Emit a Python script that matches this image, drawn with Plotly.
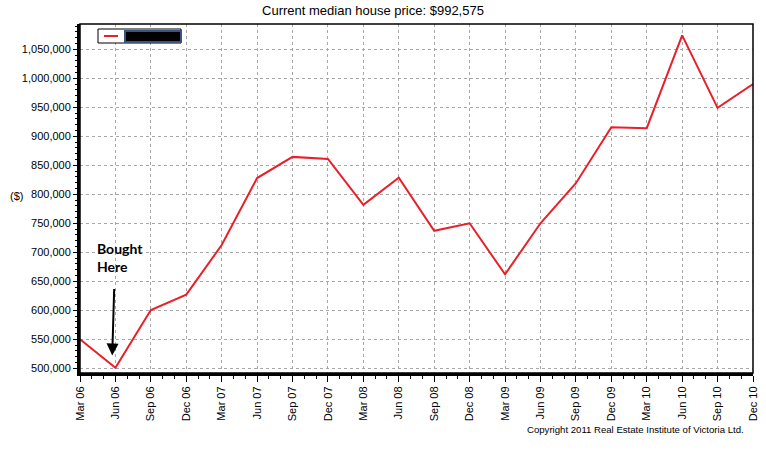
import plotly.graph_objects as go

quarters = ["Mar 06", "Jun 06", "Sep 06", "Dec 06", "Mar 07", "Jun 07", "Sep 07", "Dec 07",
            "Mar 08", "Jun 08", "Sep 08", "Dec 08", "Mar 09", "Jun 09", "Sep 09", "Dec 09",
            "Mar 10", "Jun 10", "Sep 10", "Dec 10"]
prices = [550000, 501000, 600500, 627000, 712500, 828000, 864500, 861000,
          782000, 828500, 737000, 750000, 662000, 750000, 819000, 915500,
          914000, 1074000, 949000, 990000]
y_ticks = list(range(500000, 1050001, 50000))
title_text = "Current median house price: $992,575"
copyright_text = "Copyright 2011 Real Estate Institute of Victoria Ltd."

x_idx = list(range(len(quarters)))
FONT = "Liberation Sans, Arial, sans-serif"

fig = go.Figure()
fig.add_trace(go.Scatter(x=x_idx, y=prices, mode="lines",
                         line=dict(color="#e8202a", width=2), showlegend=False,
                         hoverinfo="skip"))

fig.update_layout(
    width=766, height=459,
    margin=dict(l=80, r=13, t=24, b=86),
    paper_bgcolor="white", plot_bgcolor="white",
    font=dict(family=FONT, size=11, color="#000000"),
    title=dict(text=title_text, x=373 / 766, xanchor="center", y=0.988, yanchor="top",
               font=dict(family=FONT, size=13, color="#000000")),
    xaxis=dict(range=[0, len(quarters) - 1], tickmode="array", tickvals=x_idx,
               ticktext=quarters, tickangle=-90, ticks="outside", ticklen=6,
               tickcolor="black", tickwidth=1, automargin=False,
               showgrid=True, gridcolor="#a8a8a8", griddash="dot", gridwidth=1,
               showline=True, linecolor="black", linewidth=3, zeroline=False,
               minor=dict(dtick=1/3, ticks="outside", ticklen=3, tickcolor="black",
                          showgrid=False),
               tickfont=dict(size=11)),
    yaxis=dict(range=[491900, 1093600], tickmode="array", tickvals=y_ticks,
               tickformat=",d", ticks="outside", ticklen=4, tickcolor="black",
               automargin=False,
               showgrid=True, gridcolor="#a8a8a8", griddash="dot", gridwidth=1,
               showline=True, linecolor="black", linewidth=3, zeroline=False,
               minor=dict(dtick=10000, tick0=500000, ticks="outside", ticklen=2,
                          tickcolor="black", showgrid=False),
               tickfont=dict(size=11)),
)

# frame (top/right)
fig.add_shape(type="rect", xref="paper", yref="paper", x0=0, x1=1, y0=0, y1=1,
              line=dict(color="black", width=1.5), layer="above")

# legend box (redacted series name)
fig.add_shape(type="rect", xref="paper", yref="paper",
              x0=(98 - 80) / 673, x1=(181 - 80) / 673,
              y0=1 - (43 - 24) / 349, y1=1 - (29 - 24) / 349,
              line=dict(color="black", width=1), fillcolor="white")
fig.add_shape(type="line", xref="paper", yref="paper",
              x0=(104 - 80) / 673, x1=(118 - 80) / 673,
              y0=1 - (36 - 24) / 349, y1=1 - (36 - 24) / 349,
              line=dict(color="#e8202a", width=2))
fig.add_shape(type="rect", xref="paper", yref="paper",
              x0=(125 - 80) / 673, x1=(181 - 80) / 673,
              y0=1 - (42 - 24) / 349, y1=1 - (31 - 24) / 349,
              line=dict(color="#3b5580", width=2), fillcolor="#000000")

# y-axis unit label
fig.add_annotation(text="($)", xref="paper", yref="paper", x=-(80 - 16) / 673,
                   y=1 - (196 - 24) / 349, xanchor="center", yanchor="middle",
                   showarrow=False, font=dict(family=FONT, size=11, color="#000000"))

# "Bought Here" annotation
fig.add_annotation(text="<b>Bought<br>Here</b>", x=0.42, y=725000, xref="x", yref="y",
                   xanchor="left", yanchor="top", align="left", showarrow=False,
                   font=dict(family="Lato, Open Sans, sans-serif", size=14, color="#000000"))
fig.add_annotation(text="", x=0.91, y=522000, xref="x", yref="y",
                   ax=2, ay=-68, showarrow=True, arrowhead=2, arrowsize=1.2,
                   arrowwidth=2, arrowcolor="#000000")

# copyright
fig.add_annotation(text=copyright_text, xref="paper", yref="paper",
                   x=(746 - 80) / 673, y=-(430 - 373) / 349, xanchor="right",
                   yanchor="middle", showarrow=False,
                   font=dict(family=FONT, size=9.6, color="#000000"))

fig.write_html("out.html", config={"displayModeBar": False},
               post_script="document.body.style.margin='0';")
